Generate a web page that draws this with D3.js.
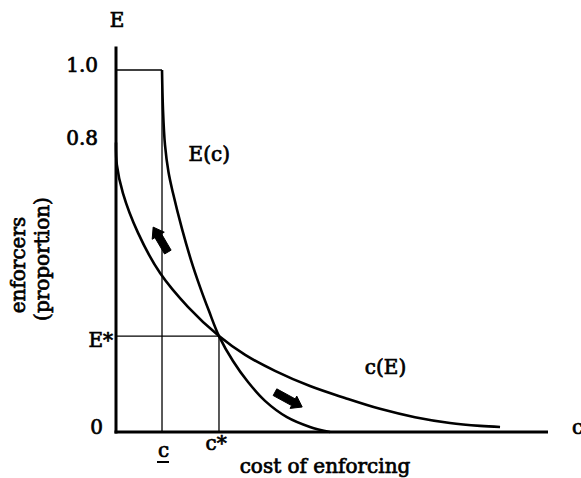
<!DOCTYPE html>
<html><head><meta charset="utf-8">
<script src="https://cdn.jsdelivr.net/npm/d3@7"></script>
<style>
body{margin:0;background:#fff}
svg{display:block;background:#fff}
text{font-family:"DejaVu Serif",serif;fill:#000;font-size:20px;stroke:#000;stroke-width:0.7px}
</style>
</head><body>
<svg id="chart" width="581" height="478"></svg>
<script>
// ---- data ----
const ecC = [1.065, 1.088, 1.134, 1.215, 1.319, 1.528, 1.736, 1.944, 2.153, 2.384, 2.708, 3.056, 3.449, 3.958, 4.49, 4.954];
const ecE = [1.0, 0.890, 0.793, 0.718, 0.660, 0.561, 0.475, 0.401, 0.334, 0.265, 0.196, 0.138, 0.086, 0.041, 0.014, 0.0];
const ceC = [0, 0.02, 0.16, 0.51, 1.02, 1.67, 2.384, 2.99, 3.68, 4.49, 5.30, 6.11, 6.92, 7.73, 8.43, 8.89];
const ceE = [0.8, 0.738, 0.660, 0.550, 0.439, 0.345, 0.265, 0.213, 0.169, 0.127, 0.094, 0.064, 0.041, 0.025, 0.017, 0.014];
const cLow = 1.065, cStar = 2.384, eStar = 0.265;
const yTickValues = [0, eStar, 0.8, 1.0];
const yTickLabels = ["0", "E*", "0.8", "1.0"];
const xTickValues = [cLow, cStar];
const xTickLabels = ["c", "c*"];
const arrowsC = [[1.20, 0.86], [3.68, 4.31]];
const arrowsE = [[0.497, 0.566], [0.110, 0.069]];
const cMax = 10, eMax = 1.065;

// ---- scales ----
const svg = d3.select("#chart");
const x = d3.scaleLinear().domain([0, cMax]).range([116, 548]);
const y = d3.scaleLinear().domain([0, 1]).range([432, 70]);

// guides
const g = svg.append("g").attr("stroke", "#000").attr("stroke-width", 1.3).attr("fill", "none");
const seg = (c1, e1, c2, e2) => g.append("line").attr("x1", x(c1)).attr("y1", y(e1)).attr("x2", x(c2)).attr("y2", y(e2));
seg(0, 1, cLow, 1);
seg(cLow, 0, cLow, 1);
seg(0, eStar, cStar, eStar);
seg(cStar, 0, cStar, eStar);

// curves
const line = d3.line().x(d => x(d[0])).y(d => y(d[1])).curve(d3.curveCatmullRom.alpha(0.5));
svg.append("path").datum(ecC.map((c, i) => [c, ecE[i]])).attr("d", line)
  .attr("fill", "none").attr("stroke", "#000").attr("stroke-width", 2.6);
svg.append("path").datum(ceC.map((c, i) => [c, ceE[i]])).attr("d", line)
  .attr("fill", "none").attr("stroke", "#000").attr("stroke-width", 2.6);

// axes (library axes with custom labels)
const yAxis = d3.axisLeft(y).tickValues(yTickValues).tickSize(0).tickPadding(16)
  .tickFormat((d, i) => yTickLabels[i]);
const ya = svg.append("g").attr("transform", `translate(${x(0)},0)`).call(yAxis);
ya.select(".domain").remove();
ya.selectAll("text").attr("font-family", "DejaVu Serif").attr("font-size", (d, i) => yTickLabels[i] === "E*" ? 22 : 20).attr("fill", "#000")
  .attr("dy", (d, i) => yTickLabels[i] === "E*" ? "0.5em" : "0.08em")
  .attr("x", (d, i) => yTickLabels[i] === "E*" ? -3 : (yTickLabels[i] === "0" ? -13 : -18));

const xAxis = d3.axisBottom(x).tickValues(xTickValues).tickSize(0).tickPadding(0)
  .tickFormat((d, i) => xTickLabels[i]);
const xa = svg.append("g").attr("transform", `translate(0,${y(0)})`).call(xAxis);
xa.select(".domain").remove();
xa.selectAll("text").attr("font-family", "DejaVu Serif").attr("font-size", 20).attr("fill", "#000")
  .attr("dy", 0).attr("text-anchor", (d, i) => i === 0 ? "middle" : "start")
  .attr("x", (d, i) => i === 0 ? 1 : -14)
  .attr("y", (d, i) => i === 0 ? 25 : 18);
// underline for c
xa.append("line").attr("x1", x(cLow) - 5).attr("x2", x(cLow) + 7).attr("y1", 30).attr("y2", 30)
  .attr("stroke", "#000").attr("stroke-width", 2);

// axis lines
svg.append("line").attr("x1", x(0)).attr("x2", x(0)).attr("y1", y(0) + 1.5).attr("y2", y(eMax))
  .attr("stroke", "#000").attr("stroke-width", 3);
svg.append("line").attr("x1", x(0) - 1.5).attr("x2", x(cMax)).attr("y1", y(0)).attr("y2", y(0))
  .attr("stroke", "#000").attr("stroke-width", 3);

// arrows
arrowsC.forEach((cs, i) => {
  const x1 = x(cs[0]), y1 = y(arrowsE[i][0]), x2 = x(cs[1]), y2 = y(arrowsE[i][1]);
  const dx = x2 - x1, dy = y2 - y1, L = Math.hypot(dx, dy);
  const ux = dx / L, uy = dy / L, px = -uy, py = ux;
  const sw = 3.8, hw = 7, hl = 10;
  const bx = x2 - ux * hl, by = y2 - uy * hl;
  const pts = [
    [x1 + px * sw, y1 + py * sw], [bx + px * sw, by + py * sw], [bx + px * hw, by + py * hw],
    [x2, y2], [bx - px * hw, by - py * hw], [bx - px * sw, by - py * sw], [x1 - px * sw, y1 - py * sw]
  ];
  svg.append("polygon").attr("points", pts.map(p => p.join(",")).join(" "))
    .attr("fill", "#000").attr("stroke", "#000").attr("stroke-width", 1).attr("stroke-linejoin", "round");
});

// text labels
const t = (txt, xx, yy, anchor) => svg.append("text").attr("x", xx).attr("y", yy)
  .attr("text-anchor", anchor || "start").text(txt);
t("E", x(0) + 1, 27, "middle");
t("c", 572, 434);
t("E(c)", x(1.68), y(0.75));
t("c(E)", x(5.76), y(0.16));
t("cost of enforcing", 325, 473, "middle");
const yl = svg.append("g").attr("transform", "rotate(-90)").style("font-size", "21px");
yl.append("text").attr("x", -265).attr("y", 25).attr("text-anchor", "middle").text("enforcers");
yl.append("text").attr("x", -259).attr("y", 49).attr("text-anchor", "middle").text("(proportion)");
</script>
</body></html>
